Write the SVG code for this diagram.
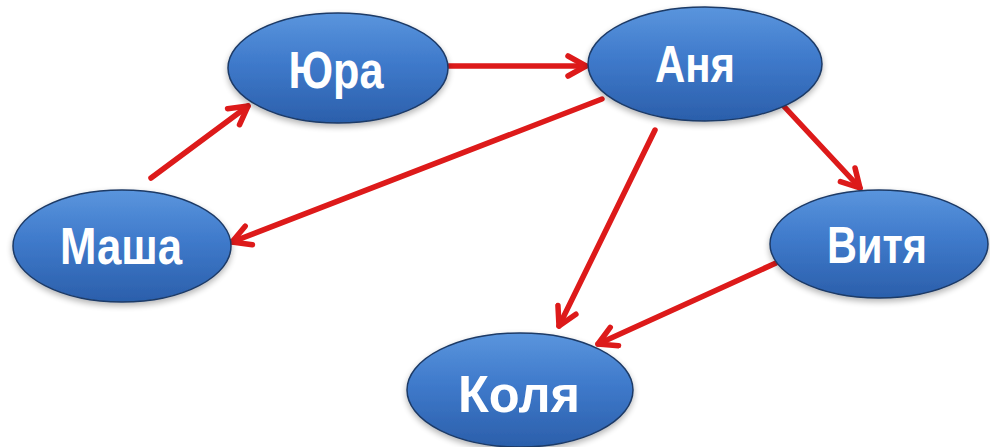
<svg xmlns="http://www.w3.org/2000/svg" width="990" height="447" viewBox="0 0 990 447">
<defs>
<linearGradient id="g" x1="0" y1="0" x2="0" y2="1">
<stop offset="0" stop-color="#5a95dd"/>
<stop offset="0.45" stop-color="#3f7acb"/>
<stop offset="1" stop-color="#2b5fab"/>
</linearGradient>
<filter id="sh" x="-10%" y="-10%" width="120%" height="130%">
<feGaussianBlur in="SourceAlpha" stdDeviation="3"/>
<feOffset dy="3"/>
<feComponentTransfer><feFuncA type="linear" slope="0.3"/></feComponentTransfer>
<feMerge><feMergeNode/><feMergeNode in="SourceGraphic"/></feMerge>
</filter>
<marker id="ah" viewBox="0 0 26 26" refX="22" refY="13" markerWidth="26" markerHeight="26" markerUnits="userSpaceOnUse" orient="auto">
<path d="M4,3 L22,13 L4,23" fill="none" stroke="#dd1a1a" stroke-width="5.5" stroke-linecap="round" stroke-linejoin="round"/>
</marker>
</defs>
<style>
.node ellipse{fill:url(#g);stroke:#1d3a66;stroke-width:1.5;filter:url(#sh)}
.node text{fill:#fff;font-family:"Liberation Sans",Arial,sans-serif;font-weight:bold;font-size:52px;text-anchor:middle}
.edges line{stroke:#dd1a1a;stroke-width:5.5;stroke-linecap:round;marker-end:url(#ah)}
</style>
<rect width="990" height="447" fill="#fff"/>
<g class="edges" id="connectors">
<line x1="151" y1="178" x2="248" y2="106"/>
<line x1="449" y1="66" x2="586" y2="66"/>
<line x1="602" y1="99" x2="232" y2="242"/>
<line x1="655" y1="130" x2="559" y2="326"/>
<line x1="776" y1="263" x2="598" y2="344"/>
<line x1="779" y1="101" x2="860" y2="188"/>
</g>
<g class="node" id="yura"><ellipse cx="338" cy="68" rx="110" ry="55"/><text x="336" y="88" textLength="95" lengthAdjust="spacingAndGlyphs">Юра</text></g>
<g class="node" id="anya"><ellipse cx="705" cy="64" rx="117" ry="57"/><text x="695" y="82" textLength="80" lengthAdjust="spacingAndGlyphs">Аня</text></g>
<g class="node" id="masha"><ellipse cx="122" cy="246" rx="109" ry="56"/><text x="121" y="264" textLength="122" lengthAdjust="spacingAndGlyphs">Маша</text></g>
<g class="node" id="vitya"><ellipse cx="879" cy="244" rx="109" ry="54"/><text x="877" y="263" textLength="100" lengthAdjust="spacingAndGlyphs">Витя</text></g>
<g class="node" id="kolya"><ellipse cx="520" cy="390" rx="113" ry="57"/><text x="519" y="412" textLength="122" lengthAdjust="spacingAndGlyphs">Коля</text></g>
</svg>
